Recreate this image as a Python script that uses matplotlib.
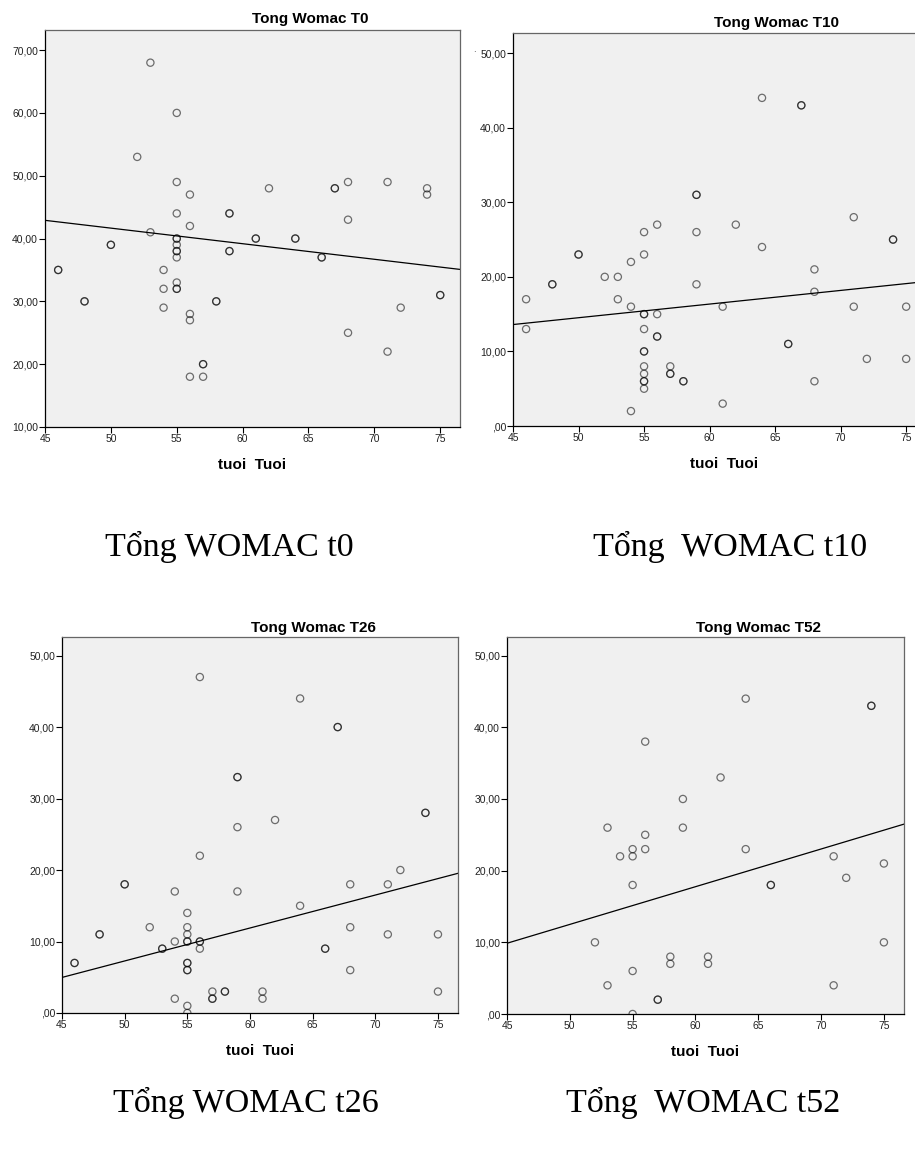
import numpy as np
import matplotlib.pyplot as plt
from matplotlib.ticker import FuncFormatter

# tuoi (x) / tong womac (y); darker circles = two patients on the same spot
age_t0 = [53, 55, 52, 55, 56, 62, 67, 67, 68, 71, 74, 74, 55, 59, 59, 68, 56, 53, 55, 55,
          61, 61, 64, 64, 50, 50, 55, 55, 55, 59, 59, 55, 66, 66, 46, 46, 54, 54, 55, 55,
          55, 48, 48, 58, 58, 54, 56, 56, 75, 75, 72, 68, 71, 57, 57, 56, 57]
womac_t0 = [68, 60, 53, 49, 47, 48, 48, 48, 49, 49, 48, 47, 44, 44, 44, 43, 42, 41, 40, 40,
            40, 40, 40, 40, 39, 39, 39, 38, 38, 38, 38, 37, 37, 37, 35, 35, 35, 32, 33, 32,
            32, 30, 30, 30, 30, 29, 28, 27, 31, 31, 29, 25, 22, 20, 20, 18, 18]

age_t10 = [64, 67, 67, 59, 59, 71, 56, 62, 55, 59, 74, 74, 50, 50, 55, 64, 54, 68, 52, 53,
           48, 48, 59, 68, 46, 53, 54, 61, 71, 75, 55, 55, 56, 46, 55, 56, 56, 66, 66, 55,
           55, 72, 75, 55, 57, 55, 57, 57, 55, 55, 58, 58, 68, 55, 61, 54]
womac_t10 = [44, 43, 43, 31, 31, 28, 27, 27, 26, 26, 25, 25, 23, 23, 23, 24, 22, 21, 20, 20,
             19, 19, 19, 18, 17, 17, 16, 16, 16, 16, 15, 15, 15, 13, 13, 12, 12, 11, 11, 10,
             10, 9, 9, 8, 8, 7, 7, 7, 6, 6, 6, 6, 6, 5, 3, 2]

age_t26 = [56, 64, 67, 67, 59, 59, 74, 74, 62, 59, 56, 72, 50, 50, 68, 71, 54, 59, 64, 55,
           52, 55, 68, 48, 48, 55, 71, 75, 54, 55, 55, 56, 56, 53, 53, 56, 66, 66, 46, 46,
           55, 55, 55, 55, 68, 57, 57, 57, 58, 58, 61, 61, 54, 55, 55, 75]
womac_t26 = [47, 44, 40, 40, 33, 33, 28, 28, 27, 26, 22, 20, 18, 18, 18, 18, 17, 17, 15, 14,
             12, 12, 12, 11, 11, 11, 11, 11, 10, 10, 10, 10, 10, 9, 9, 9, 9, 9, 7, 7,
             7, 7, 6, 6, 6, 3, 2, 2, 3, 3, 3, 2, 2, 1, 0, 3]

age_t52 = [64, 74, 74, 56, 62, 59, 53, 59, 56, 55, 56, 64, 54, 55, 71, 75, 72, 55, 66, 66,
           52, 75, 58, 58, 61, 61, 55, 53, 71, 57, 57, 55]
womac_t52 = [44, 43, 43, 38, 33, 30, 26, 26, 25, 23, 23, 23, 22, 22, 22, 21, 19, 18, 18, 18,
             10, 10, 8, 7, 8, 7, 6, 4, 4, 2, 2, 0]

# fit lines as SPSS drew them (the visible points alone don't reproduce them)
fit_slope = [-0.248, 0.183, 0.461, 0.526]
fit_intercept = [54.06, 5.37, -15.77, -13.8]

titles = ["Tong Womac T0", "Tong Womac T10", "Tong Womac T26", "Tong Womac T52"]
captions = ["Tổng WOMAC t0", "Tổng  WOMAC t10", "Tổng WOMAC t26", "Tổng  WOMAC t52"]
x_ticks = [45, 50, 55, 60, 65, 70, 75]

W, H = 915, 1149
fig = plt.figure(figsize=(W / 100, H / 100), dpi=100)
plt.rcParams['font.family'] = ['Liberation Sans', 'DejaVu Sans']


def box(l, t, r, b):
    return [l / W, 1 - b / H, (r - l) / W, (b - t) / H]


def comma_fmt(v, pos):
    s = ("%.2f" % v).replace(".", ",")
    if s.startswith("0,"):
        s = s[1:]
    return s


panels = [
    # axes box in pixels, x limits, y limits, y ticks, title centre
    (box(45, 30, 460, 427), (45, 76.5), (10, 73.2), [10, 20, 30, 40, 50, 60, 70], (310, 23)),
    (box(513, 33, 935, 426), (45, 77.2), (0, 52.7), [0, 10, 20, 30, 40, 50], (776, 27)),
    (box(62, 637, 458, 1013), (45, 76.6), (0, 52.6), [0, 10, 20, 30, 40, 50], (313, 632)),
    (box(507, 637, 904, 1014), (45, 76.6), (0, 52.6), [0, 10, 20, 30, 40, 50], (759, 632)),
]
data = [(age_t0, womac_t0), (age_t10, womac_t10), (age_t26, womac_t26), (age_t52, womac_t52)]

for i, ((rect, xl, yl, yt, tpos), (xs, ys), title) in enumerate(zip(panels, data, titles)):
    ax = fig.add_axes(rect)
    ax.set_facecolor("#f0f0f0")
    ax.scatter(xs, ys, s=27, facecolors="none", edgecolors=(0, 0, 0, 0.55), linewidths=0.9, zorder=3)

    xx = np.array(xl)
    ax.plot(xx, fit_slope[i] * xx + fit_intercept[i], color="black", lw=0.9, zorder=2)

    ax.set_xlim(*xl)
    ax.set_ylim(*yl)
    ax.set_xticks(x_ticks)
    ax.set_yticks(yt)
    ax.yaxis.set_major_formatter(FuncFormatter(comma_fmt))
    ax.tick_params(direction="out", length=4, width=0.8, labelsize=7.5, pad=1, colors="black",
                   labelcolor="#222222")
    for side in ["left", "bottom"]:
        ax.spines[side].set_color("black")
        ax.spines[side].set_linewidth(0.9)
    for side in ["top", "right"]:
        ax.spines[side].set_color("#666666")
        ax.spines[side].set_linewidth(0.9)
    ax.set_xlabel("tuoi  Tuoi", fontsize=11, fontweight="bold", labelpad=10)

    fig.text(tpos[0] / W, 1 - tpos[1] / H, title, ha="center", va="baseline",
             fontsize=11, fontweight="bold")

# stray dot left of the T10 panel
fig.text(474 / W, 1 - 52 / H, ".", fontsize=7, ha="center", va="baseline", color="#444444")

cap_pos = [(105, 556), (593, 556), (113, 1112), (566, 1112)]
for (cx, cy), cap in zip(cap_pos, captions):
    fig.text(cx / W, 1 - cy / H, cap, ha="left", va="baseline", fontsize=24.5,
             family=["Liberation Serif", "DejaVu Serif"])

fig.savefig("out.png", dpi=100)
